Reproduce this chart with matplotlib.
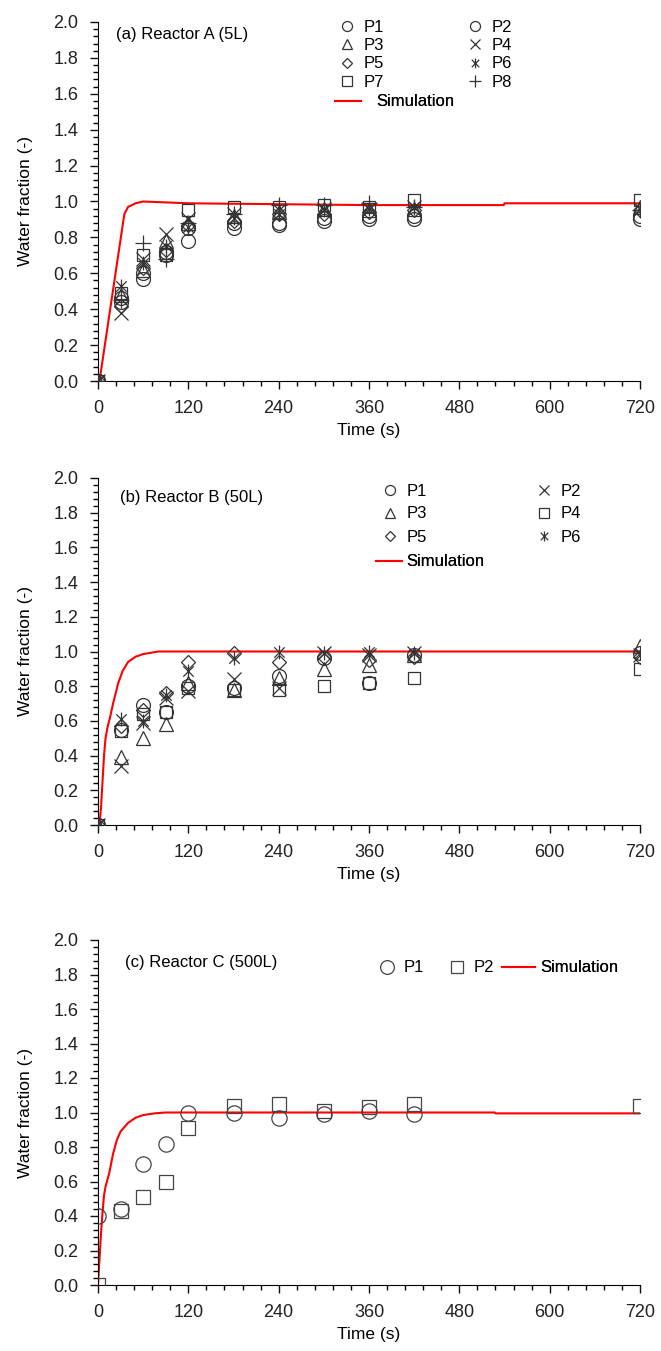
import matplotlib
matplotlib.use("Agg")
import matplotlib.pyplot as plt
from matplotlib.path import Path
from matplotlib.ticker import MultipleLocator, FormatStrFormatter

plt.rcParams['font.family'] = ['Liberation Sans', 'DejaVu Sans']

# ---------------- data ----------------
t_exp = [0, 30, 60, 90, 120, 180, 240, 300, 360, 420, 720]

# Reactor A (5L)
a_P1 = [0, 0.44, 0.57, 0.70, 0.78, 0.85, 0.87, 0.89, 0.90, 0.90, 0.90]
a_P2 = [0, 0.46, 0.60, 0.72, 0.85, 0.88, 0.88, 0.91, 0.92, 0.92, 0.92]
a_P3 = [0, 0.48, 0.62, 0.78, 0.88, 0.92, 0.94, 0.96, 0.95, 0.96, 0.97]
a_P4 = [0, 0.38, 0.68, 0.82, 0.90, 0.93, 0.95, 0.96, 0.96, 0.97, 0.96]
a_P5 = [0, 0.42, 0.63, 0.73, 0.87, 0.89, 0.93, 0.93, 0.94, 0.95, 0.95]
a_P6 = [0, 0.53, 0.66, 0.75, 0.86, 0.91, 0.93, 0.95, 0.96, 0.97, 0.96]
a_P7 = [0, 0.49, 0.70, 0.70, 0.95, 0.97, 0.97, 0.98, 0.97, 1.01, 1.01]
a_P8 = [0, 0.45, 0.77, 0.68, 0.88, 0.93, 0.98, 0.98, 0.99, 0.97, 0.95]
a_sim_t = [0, 2, 35, 40, 50, 60, 90, 120, 240, 360, 480, 539, 540, 720]
a_sim_v = [0, 0.0, 0.93, 0.97, 0.99, 1.0, 0.995, 0.99, 0.985, 0.98, 0.98, 0.98, 0.99, 0.99]

# Reactor B (50L)
b_P1 = [0, 0.55, 0.69, 0.65, 0.80, 0.79, 0.86, 0.96, 0.82, 0.98, 0.99]
b_P2 = [0, 0.34, 0.59, 0.73, 0.77, 0.84, 0.79, 0.99, 0.98, 0.99, 0.98]
b_P3 = [0, 0.39, 0.50, 0.58, 0.82, 0.78, 0.85, 0.90, 0.92, 0.98, 1.03]
b_P4 = [0, 0.54, 0.64, 0.65, 0.79, 0.78, 0.78, 0.80, 0.82, 0.85, 0.90]
b_P5 = [0, 0.57, 0.66, 0.76, 0.94, 0.99, 0.94, 0.97, 0.95, 0.97, 0.97]
b_P6 = [0, 0.61, 0.60, 0.75, 0.89, 0.96, 1.00, 0.99, 1.00, 0.99, 0.99]
b_sim_t = [0, 2, 4, 6, 8, 10, 13, 16, 20, 27, 33, 40, 50, 60, 80, 120, 720]
b_sim_v = [0, 0.0, 0.10, 0.25, 0.40, 0.50, 0.57, 0.62, 0.70, 0.82, 0.89, 0.94, 0.97, 0.985, 1.0, 1.0, 1.0]

# Reactor C (500L)
c_t_P1 = [0, 30, 60, 90, 120, 180, 240, 300, 360, 420]
c_P1 = [0.40, 0.44, 0.70, 0.82, 1.00, 1.00, 0.97, 0.99, 1.01, 0.99]
c_t_P2 = [0, 30, 60, 90, 120, 180, 240, 300, 360, 420, 720]
c_P2 = [0.0, 0.43, 0.51, 0.60, 0.91, 1.04, 1.05, 1.01, 1.03, 1.05, 1.04]
c_sim_t = [0, 2, 4, 6, 8, 10, 15, 20, 25, 30, 40, 50, 60, 75, 90, 120, 527, 528, 720]
c_sim_v = [0, 0.15, 0.30, 0.42, 0.52, 0.57, 0.65, 0.76, 0.84, 0.89, 0.94, 0.97, 0.985, 0.995, 1.0, 1.0, 1.0, 0.995, 0.995]

# ---------------- style ----------------
FW, FH = 661, 1351
LFS = 12      # legend / panel titles
TFS = 13      # tick labels
AFS = 12.5    # axis labels

# Excel-style star marker: vertical bar plus an X
star = Path([(0, -1), (0, 1), (-0.75, -0.75), (0.75, 0.75), (-0.75, 0.75), (0.75, -0.75)],
            [Path.MOVETO, Path.LINETO, Path.MOVETO, Path.LINETO, Path.MOVETO, Path.LINETO])

mk = {'o': ('o', 1.0), '^': ('^', 1.0), 'D': ('D', 0.72), 's': ('s', 0.92),
      'x': ('x', 0.95), '*': (star, 1.0), '+': ('+', 1.15)}


def fx(px):
    return px / FW


def fy(py):
    return 1 - py / FH


def pts(ax, t, v, key, label, ms=10, ec='#333333'):
    m, f = mk[key]
    return ax.plot(t, v, linestyle='none', marker=m, ms=ms * f, mfc='none',
                   mec=ec, mew=0.9, label=label, zorder=3)[0]


def style_axes(ax, h_px):
    ax.set_xlim(0, 720)
    ax.set_ylim(0, 2.0)
    for s in ('top', 'right'):
        ax.spines[s].set_visible(False)
    ax.xaxis.set_major_locator(MultipleLocator(120))
    ax.xaxis.set_minor_locator(MultipleLocator(24))
    ax.yaxis.set_major_locator(MultipleLocator(0.2))
    ax.yaxis.set_minor_locator(MultipleLocator(0.04))
    ax.yaxis.set_major_formatter(FormatStrFormatter('%.1f'))
    ax.tick_params(which='major', direction='out', length=6, width=1.0,
                   labelsize=TFS, pad=8, colors='#111111', labelcolor='#222222')
    ax.tick_params(which='minor', direction='out', length=3.5, width=1.0)
    ax.set_xlabel('Time (s)', fontsize=AFS)
    ax.set_ylabel('Water fraction (-)', fontsize=AFS)
    ax.xaxis.set_label_coords(0.5, -42 / h_px)
    ax.yaxis.set_label_coords(-65 / 542, 0.5)


def leg(ax, handles, labels, x_px, y_px, **kw):
    opts = dict(loc='upper left', bbox_to_anchor=(fx(x_px), fy(y_px)),
                bbox_transform=ax.figure.transFigure, frameon=False, borderpad=0,
                borderaxespad=0, fontsize=LFS, handlelength=1.0, handletextpad=0.5,
                labelspacing=0.0, markerscale=0.72)
    opts.update(kw)
    lg = ax.legend(handles, labels, **opts)
    ax.add_artist(lg)
    return lg


fig = plt.figure(figsize=(FW / 100, FH / 100), dpi=100)
L, W = fx(98), 542 / FW
ax_a = fig.add_axes([L, fy(381), W, 359 / FH])
ax_b = fig.add_axes([L, fy(825), W, 347 / FH])
ax_c = fig.add_axes([L, fy(1285), W, 345 / FH])

# ---------- (a) ----------
ax = ax_a
sim, = ax.plot(a_sim_t, a_sim_v, color='red', lw=1.5, zorder=2)
h = [pts(ax, t_exp, a_P1, 'o', 'P1'), pts(ax, t_exp, a_P2, 'o', 'P2'),
     pts(ax, t_exp, a_P3, '^', 'P3'), pts(ax, t_exp, a_P4, 'x', 'P4'),
     pts(ax, t_exp, a_P5, 'D', 'P5'), pts(ax, t_exp, a_P6, '*', 'P6'),
     pts(ax, t_exp, a_P7, 's', 'P7'), pts(ax, t_exp, a_P8, '+', 'P8')]
style_axes(ax, 359)
fig.text(fx(116), fy(35), '(a) Reactor A (5L)', fontsize=LFS, va='center')
leg(ax, [h[0], h[2], h[4], h[6], h[1], h[3], h[5], h[7]],
    ['P1', 'P3', 'P5', 'P7', 'P2', 'P4', 'P6', 'P8'], 339, 19.5,
    ncol=2, columnspacing=4.95, labelspacing=0.21)
leg(ax, [sim], ['Simulation'], 335, 94.5, handlelength=1.56, handletextpad=0.9)

# ---------- (b) ----------
ax = ax_b
sim, = ax.plot(b_sim_t, b_sim_v, color='red', lw=1.5, zorder=2)
h = [pts(ax, t_exp, b_P1, 'o', 'P1'), pts(ax, t_exp, b_P2, 'x', 'P2'),
     pts(ax, t_exp, b_P3, '^', 'P3'), pts(ax, t_exp, b_P4, 's', 'P4'),
     pts(ax, t_exp, b_P5, 'D', 'P5'), pts(ax, t_exp, b_P6, '*', 'P6')]
style_axes(ax, 347)
fig.text(fx(120), fy(498), '(b) Reactor B (50L)', fontsize=LFS, va='center')
leg(ax, [h[0], h[2], h[4], h[1], h[3], h[5]],
    ['P1', 'P3', 'P5', 'P2', 'P4', 'P6'], 381.7, 483.5,
    ncol=2, columnspacing=6.5, labelspacing=0.48)
leg(ax, [sim], ['Simulation'], 376, 554.5, handlelength=1.56, handletextpad=0.25)

# ---------- (c) ----------
ax = ax_c
sim, = ax.plot(c_sim_t, c_sim_v, color='red', lw=1.5, zorder=2)
h1 = pts(ax, c_t_P1, c_P1, 'o', 'P1', ms=11, ec='#444444')
h2 = pts(ax, c_t_P2, c_P2, 's', 'P2', ms=11, ec='#444444')
style_axes(ax, 345)
fig.text(fx(125), fy(963), '(c) Reactor C (500L)', fontsize=LFS, va='center')
leg(ax, [h1, h2], ['P1', 'P2'], 378.7, 960.5, ncol=2, columnspacing=1.5, markerscale=0.9)
leg(ax, [sim], ['Simulation'], 502, 960.5, handlelength=2.0, handletextpad=0.3)

fig.savefig('out.png', dpi=100)
